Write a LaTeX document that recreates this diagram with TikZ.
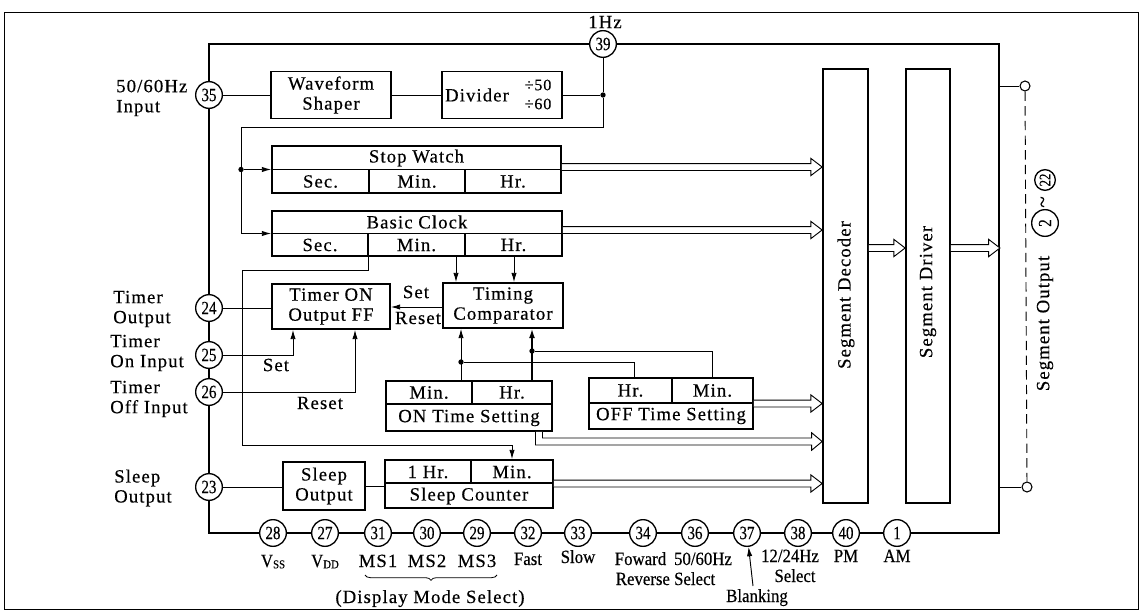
\documentclass[tikz,border=0pt]{standalone}
\usepackage{fontspec}
\setmainfont{Liberation Serif}[LetterSpace=6, FakeBold=0.4]
\newfontfamily\pinfont{Liberation Serif}[FakeStretch=0.8, FakeBold=0.4]
\newfontfamily\condfont{Liberation Serif}[FakeStretch=0.9, FakeBold=0.4]
\usetikzlibrary{arrows.meta,calc,decorations.pathreplacing}
\tikzset{
  sz/.style n args={2}{minimum width=#1*0.75pt, minimum height=#2*0.75pt},
  blk/.style={draw, rectangle, line width=1.3pt, fill=white, align=center},
  inner/.style={line width=1pt},
  pin/.style={circle, draw, line width=1pt, fill=white, minimum size=20pt, inner sep=0pt, font=\pinfont\fontsize{14}{14}\selectfont},
  spin/.style={pin, minimum size=15pt, font=\pinfont\fontsize{12}{12}\selectfont},
  term/.style={circle, draw, line width=0.8pt, fill=white, minimum size=7.5pt},
  dot/.style={circle, fill, minimum size=4pt, inner sep=0pt},
  wire/.style={line width=0.7pt},
  arr/.style={wire, -{Latex[length=7pt,width=4pt]}},
  blab/.style={anchor=base, font=\condfont\fontsize{14}{15}\selectfont},
  bus/.style={line width=0.7pt, fill=white, to path={let \p1=(\tikztostart), \p2=(\tikztotarget) in
     (\x1,\y1+2.6pt) -- (\x2-8.5pt,\y1+2.6pt) -- (\x2-8.5pt,\y1+6.5pt) -- (\x2,\y1) -- (\x2-8.5pt,\y1-6.5pt) -- (\x2-8.5pt,\y1-2.6pt) -- (\x1,\y1-2.6pt)}},
}
\begin{document}
\begin{tikzpicture}[x=0.75pt,y=-0.75pt,
  every node/.style={font=\fontsize{14}{15}\selectfont, inner sep=0pt}]
\fill[white] (0,0) rectangle (1148,613);
\useasboundingbox (0,0) rectangle (1148,613);

% outer frame
\node[draw, line width=0.6pt, sz={1134}{597}] (frame) at (571,310.5) {};
% chip outline
\node[draw, line width=1.4pt, sz={790}{489}] (chip) at (604,288.5) {};

% ---- blocks
\node[blk, sz={120}{47}] (ws) at (331,95) {Waveform\\Shaper};
\node[blk, sz={120}{47}] (div) at (502,95) {};
\node (divt) at (477,95) {Divider};
\node (d50) at (538,85) {\fontsize{12}{12}\selectfont ÷50};
\node (d60) at (538,104) {\fontsize{12}{12}\selectfont ÷60};

\node[blk, sz={289}{47}] (sw) at (416.5,169.5) {};
\draw[inner] (sw.west) -- (sw.east);
\draw[inner] (369,169.5) -- (369,193);
\draw[inner] (465,169.5) -- (465,193);
\node (swt) at (416.5,158) {Stop Watch};
\node (sws) at (320.5,181.5) {Sec.};
\node (swm) at (417,181.5) {Min.};
\node (swh) at (513,181.5) {Hr.};

\node[blk, sz={290}{45}] (bc) at (417,233.5) {};
\draw[inner] (bc.west) -- (bc.east);
\draw[inner] (368,233.5) -- (368,256);
\draw[inner] (465,233.5) -- (465,256);
\node (bct) at (417,222) {Basic Clock};
\node (bcs) at (320,245) {Sec.};
\node (bcm) at (416.5,245) {Min.};
\node (bch) at (513.5,245) {Hr.};

\node[blk, sz={118}{45}] (tff) at (331,306.5) {Timer ON\\Output FF};
\node[blk, sz={120}{45}] (tc) at (503,305.5) {Timing\\Comparator};

\node[blk, sz={166}{50}] (on) at (469,406) {};
\draw[inner] (386,404) -- (552,404);
\draw[inner] (472,381) -- (472,404);
\node (onm) at (429,392.5) {Min.};
\node (onh) at (512,392.5) {Hr.};
\node (ont) at (469,418) {ON Time Setting};

\node[blk, sz={164}{51}] (off) at (671,403.5) {};
\draw[inner] (589,403) -- (753,403);
\draw[inner] (672,378) -- (672,403);
\node (offh) at (630.5,390.5) {Hr.};
\node (offm) at (712.5,390.5) {Min.};
\node (offt) at (671,416) {OFF Time Setting};

\node[blk, sz={82}{48}] (so) at (324,486) {Sleep\\Output};
\node[blk, sz={168}{48}] (sc) at (469,484) {};
\draw[inner] (385,483) -- (553,483);
\draw[inner] (471,460) -- (471,483);
\node (sch) at (428,472) {1 Hr.};
\node (scm) at (512,472) {Min.};
\node (sct) at (469,496) {Sleep Counter};

\node[blk, sz={45}{434}] (dec) at (845.5,286) {};
\node[rotate=90] (dect) at (846,295) {Segment Decoder};
\node[blk, sz={44}{434}] (drv) at (928,286) {};
\node[rotate=90] (drvt) at (928,292) {Segment Driver};

% ---- pins
\node[pin] (p35) at (209,95) {35};
\node[pin] (p39) at (603,44) {39};
\node[pin] (p24) at (209,308) {24};
\node[pin] (p25) at (209,355) {25};
\node[pin] (p26) at (209,392) {26};
\node[pin] (p23) at (209,487) {23};
\foreach \n/\x in {28/273,27/325,31/378,30/427,29/477,32/528,33/578,34/643,36/695,37/747,38/798,40/846,1/897}
  \node[pin] (p\n) at (\x,533) {\n};

% ---- left labels
\node[anchor=west, align=left] (l35) at (116,98) {50/60Hz\\Input};
\node[anchor=west, align=left] (l24) at (113,309) {Timer\\Output};
\node[anchor=west, align=left] (l25) at (110,353) {Timer\\On Input};
\node[anchor=west, align=left] (l26) at (110,399) {Timer\\Off Input};
\node[anchor=west, align=left] (l23) at (114,488) {Sleep\\Output};
\node (l39) at (605,22) {1Hz};

% ---- wires
\node[dot] (j1) at (603,95) {};
\draw[wire] (p35) -- (ws.west |- p35);
\draw[wire] (ws.east) -- (div.west);
\draw[wire] (div.east) -- (j1);
\draw[wire] (j1) -- (p39);
\draw[arr] (j1) -- (603,127) -- (241,127) |- (bc.west);
\node[dot] (j2) at (241,169.5) {};
\draw[arr] (j2) -- (sw.west);

\draw[arr] (bc.south -| 368,0) -- ++(0,14) -| (242,445) -| (sc.north -| 512,0);

\draw[wire] (p24) -- (tff.west |- p24);
\draw[arr] (p25) -| (tff.south -| 293,0);
\draw[arr] (p26) -| (tff.south -| 355,0);
\node (lset1) at (276,365) {Set};
\node (lres1) at (320,403) {Reset};
\draw[arr] (tc.west |- 0,307) -- (tff.east |- 0,307);
\node (lset2) at (416,292) {Set};
\node (lres2) at (418,318) {Reset};

\draw[arr] (bc.south -| 456,0) -- (tc.north -| 456,0);
\draw[arr] (bc.south -| 514,0) -- (tc.north -| 514,0);

\draw[arr] (on.north -| 461,0) -- (tc.south -| 461,0);
\node[dot] (j3) at (461,362) {};
\draw[wire] (j3) -| (off.north -| 634,0);
\draw[wire, line width=1.1pt, -{Latex[length=7pt,width=4.5pt]}] (on.north -| 532,0) -- (tc.south -| 532,0);
\node[dot] (j4) at (532,351) {};
\draw[wire] (j4) -| (off.north -| 712,0);

\draw[wire] (p23) -- (so.west |- p23);
\draw[wire] (so.east) -- (sc.west |- so.east);

% ---- buses
\draw[bus] (sw.east |- 0,167) to (dec.west |- 0,167);
\draw[bus] (bc.east |- 0,230) to (dec.west |- 0,230);
\draw[bus] (off.east |- 0,403.5) to (dec.west |- 0,403.5);
\draw[bus] (sc.east |- 0,483.5) to (dec.west |- 0,483.5);
\draw[bus] (dec.east |- 0,248) to (drv.west |- 0,248);
\draw[bus] (drv.east |- 0,248) to (chip.east |- 0,248);
\draw[line width=0.7pt, fill=white] (on.south -| 535.5,0) -- (535.5,445) -- (811.7,445) -- (811.7,450.2)
   -- (dec.west |- 0,441.5) -- (811.7,432.8) -- (811.7,438) -- (542.5,438) -- (on.south -| 542.5,0);

% ---- segment outputs
\node[term] (t1) at (1025,86) {};
\node[term] (t2) at (1027,487) {};
\draw[wire] (chip.east |- t1) -- (t1);
\draw[wire] (chip.east |- t2) -- (t2);
\draw[wire, dash pattern=on 7pt off 4pt] (t1) -- (t2);
\node[rotate=90] (sot) at (1045,323.5) {Segment Output};
\node[pin, minimum size=20pt, rotate=90] (q2) at (1045,223) {2};
\node[rotate=90] (qt) at (1045,202) {\fontsize{16}{16}\selectfont\textasciitilde};
\node[spin, minimum size=15.5pt, rotate=90] (q22) at (1045,180) {22};

% ---- bottom labels
\node[blab] (lvss) at (273,567) {V\raisebox{-1pt}{\fontsize{9}{9}\selectfont SS}};
\node[blab] (lvdd) at (325,567) {V\raisebox{-1pt}{\fontsize{9}{9}\selectfont DD}};
\node[anchor=base] (lms1) at (378,567) {MS1};
\node[anchor=base] (lms2) at (427,567) {MS2};
\node[anchor=base] (lms3) at (477,567) {MS3};
\node[blab] (lfast) at (528,565) {Fast};
\node[blab] (lslow) at (578,563) {Slow};
\node[blab] (lfow) at (640.5,565) {Foward};
\node[blab] (lrev) at (665.5,585) {Reverse Select};
\node[blab] (l5060) at (703,565) {50/60Hz};
\node[blab] (l1224) at (790,562) {12/24Hz};
\node[blab] (lsel) at (795,582) {Select};
\node[blab] (lpm) at (846,562) {PM};
\node[blab] (lam) at (897,562) {AM};
\node[blab] (lblank) at (757,602) {Blanking};
\coordinate (bt) at (753,586);
\draw[arr] (bt) -- (p37);
\draw[line width=0.6pt, decorate, decoration={brace, mirror, amplitude=4pt}] (365,575) -- (497,575);
\node[anchor=base] (ldms) at (430,603) {(Display Mode Select)};
\end{tikzpicture}
\end{document}
